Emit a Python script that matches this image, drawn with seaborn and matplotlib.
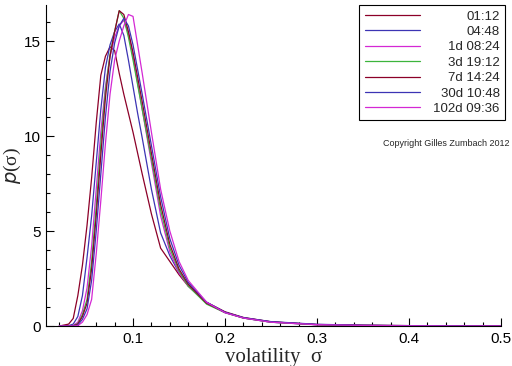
import numpy as np
import pandas as pd
import matplotlib
matplotlib.use("Agg")
import matplotlib.pyplot as plt
from matplotlib.ticker import MultipleLocator
import seaborn as sns

sigma = [0.02, 0.03, 0.035, 0.04, 0.045, 0.05, 0.055, 0.06, 0.065, 0.07, 0.075, 0.08,
         0.085, 0.09, 0.095, 0.10, 0.105, 0.11, 0.12, 0.13, 0.14, 0.15, 0.16, 0.18,
         0.20, 0.22, 0.25, 0.30, 0.35, 0.40, 0.45, 0.50]

labels = ["01:12", "04:48", "1d 08:24", "3d 19:12", "7d 14:24", "30d 10:48", "102d 09:36"]
colors = ["#8c0028", "#3c34b4", "#d428d4", "#3cb43c", "#8c0028", "#3c34b4", "#d428d4"]

p_0112 = [0.0, 0.1, 0.4, 1.6, 3.2, 5.3, 7.8, 10.7, 13.2, 14.2, 14.7, 14.5,
          13.3, 12.2, 11.2, 10.2, 9.1, 8.0, 5.9, 4.1, 3.4, 2.7, 2.1, 1.25,
          0.75, 0.45, 0.22, 0.07, 0.03, 0.02, 0.01, 0.01]
p_0448 = [0.0, 0.02, 0.1, 0.5, 1.6, 3.6, 5.8, 8.6, 11.4, 13.6, 14.8, 15.5,
          15.9, 15.3, 14.0, 12.6, 11.2, 9.9, 7.2, 4.9, 3.7, 2.8, 2.2, 1.25,
          0.72, 0.42, 0.2, 0.07, 0.03, 0.015, 0.01, 0.0]
p_1d = [0.0, 0.0, 0.03, 0.2, 0.8, 2.0, 4.2, 7.2, 10.2, 12.6, 14.2, 15.2,
        15.8, 16.1, 15.4, 14.2, 12.8, 11.4, 8.6, 5.8, 3.9, 2.8, 2.1, 1.2,
        0.7, 0.42, 0.2, 0.06, 0.02, 0.01, 0.0, 0.0]
p_3d = [0.0, 0.0, 0.02, 0.12, 0.6, 1.4, 3.4, 6.3, 9.6, 12.4, 14.3, 15.5,
        16.6, 16.2, 15.2, 14.0, 12.7, 11.4, 8.8, 6.1, 4.1, 2.9, 2.1, 1.15,
        0.7, 0.42, 0.2, 0.07, 0.03, 0.01, 0.01, 0.0]
p_7d = [0.0, 0.0, 0.01, 0.1, 0.5, 1.2, 3.0, 5.8, 9.0, 12.0, 14.2, 15.5,
        16.6, 16.4, 15.5, 14.4, 13.1, 11.8, 9.1, 6.4, 4.3, 3.0, 2.2, 1.2,
        0.72, 0.43, 0.22, 0.08, 0.04, 0.02, 0.01, 0.01]
p_30d = [0.0, 0.0, 0.0, 0.05, 0.35, 0.9, 2.4, 5.0, 8.0, 11.0, 13.4, 14.9,
         15.8, 16.2, 15.8, 14.8, 13.5, 12.2, 9.5, 6.8, 4.6, 3.2, 2.3, 1.25,
         0.72, 0.44, 0.23, 0.09, 0.04, 0.02, 0.01, 0.0]
p_102d = [0.0, 0.0, 0.0, 0.02, 0.2, 0.6, 1.4, 3.8, 6.6, 9.6, 12.2, 14.0,
          15.0, 15.8, 16.4, 16.3, 14.8, 13.3, 10.2, 7.2, 5.0, 3.4, 2.4, 1.25,
          0.7, 0.42, 0.2, 0.07, 0.03, 0.01, 0.0, 0.0]

series = [p_0112, p_0448, p_1d, p_3d, p_7d, p_30d, p_102d]

df = pd.concat([pd.DataFrame({"sigma": sigma, "p": s, "label": lab})
                for s, lab in zip(series, labels)], ignore_index=True)

sns.set_style("white")
plt.rcParams["font.family"] = ["Liberation Sans", "DejaVu Sans"]

fig = plt.figure(figsize=(5.12, 3.66), dpi=100)
ax = fig.add_axes([46 / 512, 40 / 366, 455 / 512, 321 / 366])

sns.lineplot(data=df, x="sigma", y="p", hue="label", hue_order=labels,
             palette=colors, linewidth=0.9, ax=ax, legend=False, sort=False)

ax.set_xlim(0.0054, 0.5)
ax.set_ylim(0, 16.9)
ax.xaxis.set_major_locator(MultipleLocator(0.1))
ax.xaxis.set_minor_locator(MultipleLocator(0.02))
ax.yaxis.set_major_locator(MultipleLocator(5))
ax.yaxis.set_minor_locator(MultipleLocator(1))
ax.xaxis.set_major_formatter(matplotlib.ticker.FuncFormatter(
    lambda v, pos: "" if abs(v) < 1e-9 else f"{v:g}"))
ax.tick_params(which="major", direction="in", length=6, width=0.8, labelsize=11,
               colors="black", pad=4)
ax.tick_params(which="minor", direction="in", length=3, width=0.8, colors="black")
ax.tick_params(axis="x", which="both", bottom=True, top=False)
ax.tick_params(axis="y", which="both", left=True, right=False)
for side in ["top", "right"]:
    ax.spines[side].set_visible(False)
for side in ["left", "bottom"]:
    ax.spines[side].set_color("black")
    ax.spines[side].set_linewidth(0.8)

ax.set_xlabel("volatility  σ", family=["Liberation Serif", "DejaVu Serif"],
              fontsize=15, labelpad=2)
ax.set_ylabel("$p$(σ)", family=["Liberation Serif", "DejaVu Serif"],
              fontsize=14, labelpad=0)

handles = [matplotlib.lines.Line2D([], [], color=c, linewidth=0.9) for c in colors]
leg = ax.legend(handles, labels, loc="upper right",
                bbox_to_anchor=(505 / 512, 1 - 5 / 366), bbox_transform=fig.transFigure,
                frameon=True, fancybox=False, edgecolor="black", framealpha=1,
                fontsize=9.5, handlelength=4.2, handletextpad=1.0, labelspacing=0.24,
                borderpad=0.4, borderaxespad=0)
leg.get_frame().set_linewidth(0.8)

fig.canvas.draw()
r = fig.canvas.get_renderer()
texts = leg.get_texts()
widths = [t.get_window_extent(r).width for t in texts]
mw = max(widths)
for t, w in zip(texts, widths):
    t.set_x(mw - w)

fig.text(383 / 512, 1 - 143 / 366, "Copyright Gilles Zumbach 2012", fontsize=6.5,
         va="center", ha="left")

fig.savefig("out.png", dpi=100)
